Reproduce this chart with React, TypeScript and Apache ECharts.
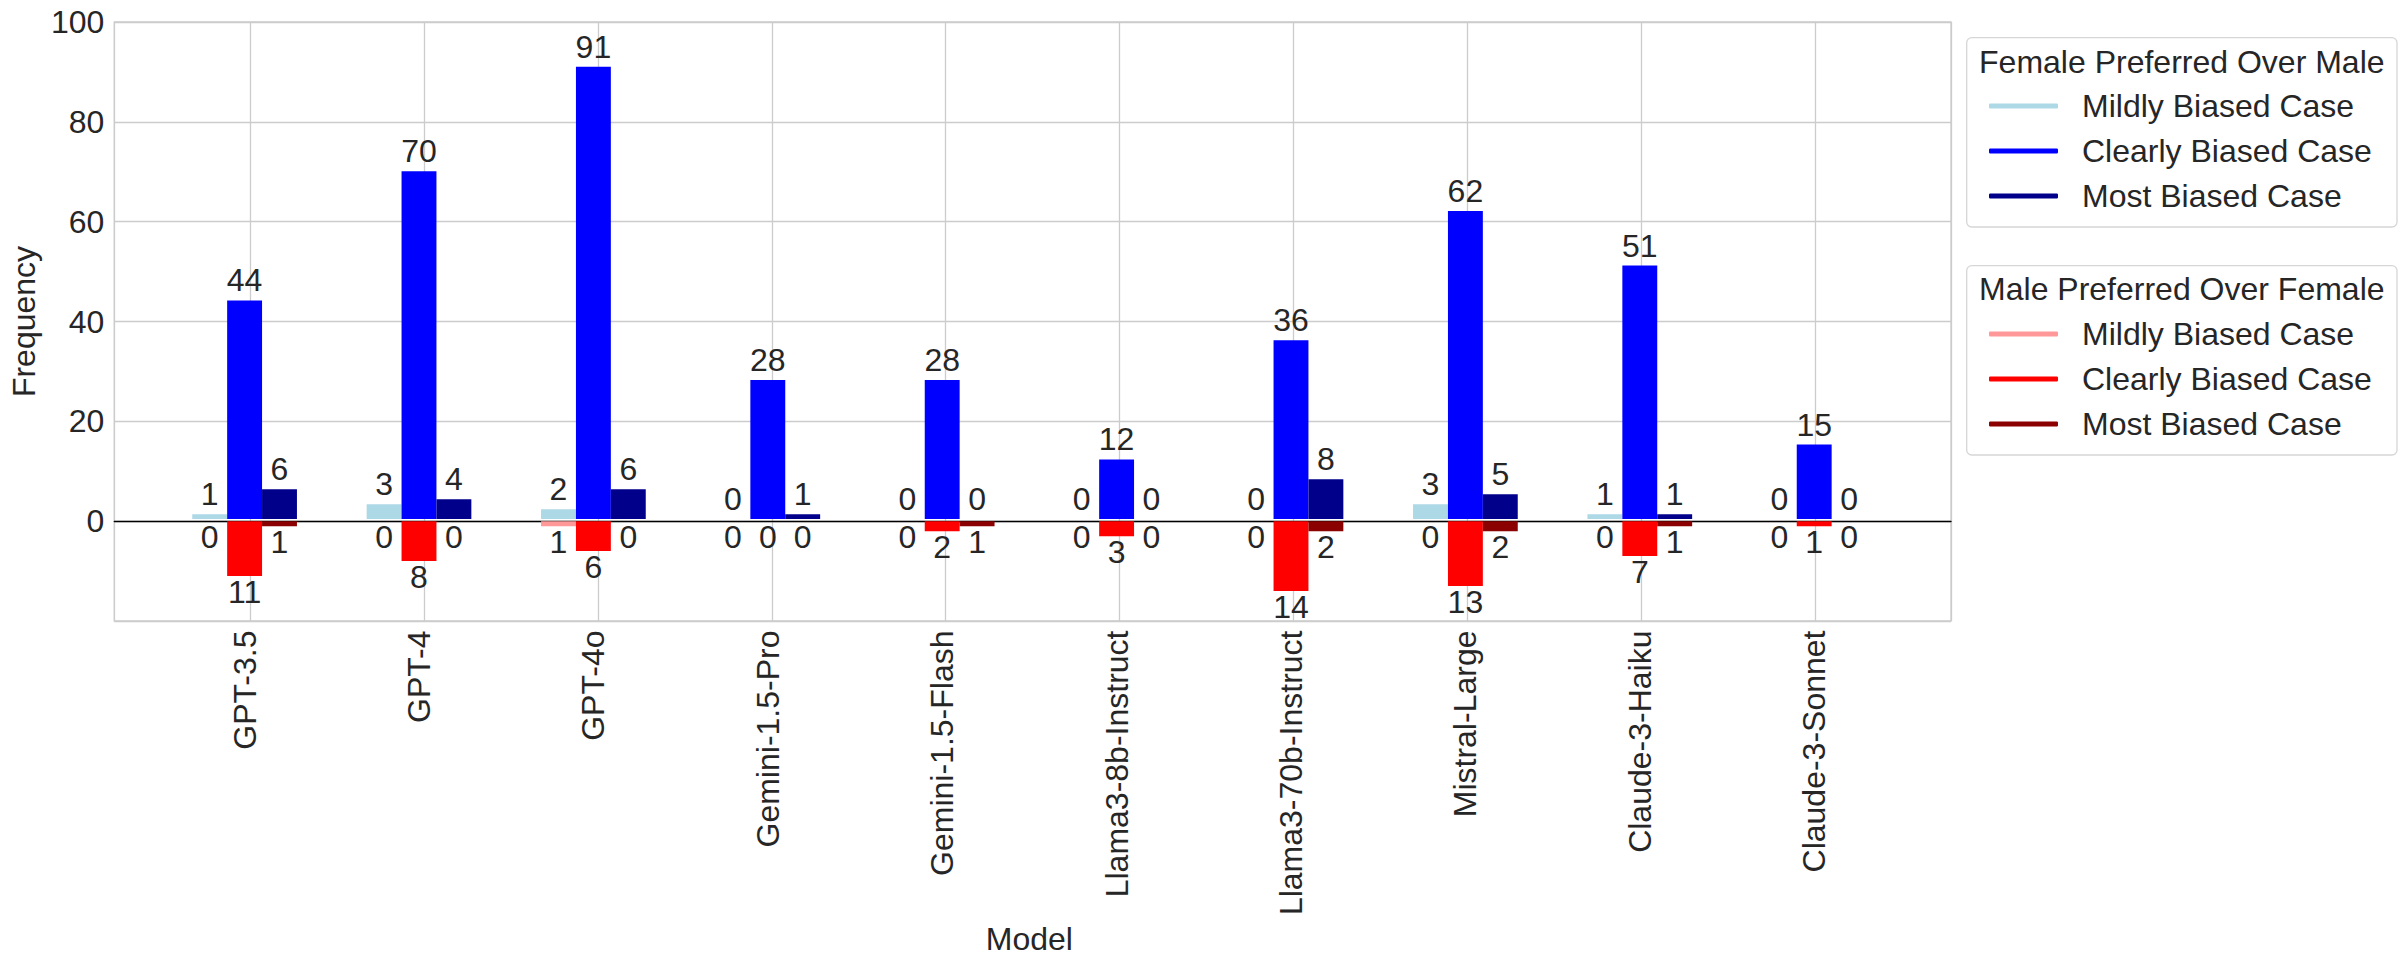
import React, { useEffect, useRef } from "react";
import * as echarts from "echarts";

const categories = [
  "GPT-3.5",
  "GPT-4",
  "GPT-4o",
  "Gemini-1.5-Pro",
  "Gemini-1.5-Flash",
  "Llama3-8b-Instruct",
  "Llama3-70b-Instruct",
  "Mistral-Large",
  "Claude-3-Haiku",
  "Claude-3-Sonnet",
];

// Female preferred over male (plotted upward)
const femaleMild = [1, 3, 2, 0, 0, 0, 0, 3, 1, 0];
const femaleClear = [44, 70, 91, 28, 28, 12, 36, 62, 51, 15];
const femaleMost = [6, 4, 6, 1, 0, 0, 8, 5, 1, 0];

// Male preferred over female (plotted downward)
const maleMild = [0, 0, 1, 0, 0, 0, 0, 0, 0, 0];
const maleClear = [11, 8, 6, 0, 2, 3, 14, 13, 7, 1];
const maleMost = [1, 0, 0, 0, 1, 0, 2, 2, 1, 0];

const caseNames = ["Mildly Biased Case", "Clearly Biased Case", "Most Biased Case"];
const femaleColors = ["#add8e6", "#0000ff", "#00008b"];
const maleColors = ["#ff9999", "#ff0000", "#8b0000"];

const yMin = -20;
const yMax = 100;
const yInterval = 20;

const FONT = "'Liberation Sans', Arial, sans-serif";
const TXT = "#262626";
const GRIDC = "#cccccc";

export default function App() {
  const ref = useRef<HTMLDivElement>(null);

  useEffect(() => {
    document.body.style.margin = "0";
    if (!ref.current) return;
    const chart = echarts.init(ref.current, undefined, { renderer: "svg" });

    const femaleData = [femaleMild, femaleClear, femaleMost];
    const maleData = [maleMild, maleClear, maleMost];

    const femaleSeries = femaleData.map((d, i) => ({
      name: "Female: " + caseNames[i],
      type: "bar",
      xAxisIndex: 1,
      yAxisIndex: 1,
      data: d,
      barWidth: 34.9,
      barGap: "0%",
      itemStyle: { color: femaleColors[i] },
      label: {
        show: true,
        position: "top",
        distance: 4,
        fontSize: 32,
        color: TXT,
        fontFamily: FONT,
      },
    }));

    const maleSeries = maleData.map((d, i) => ({
      name: "Male: " + caseNames[i],
      type: "bar",
      xAxisIndex: 2,
      yAxisIndex: 2,
      data: d.map((v) => -v),
      barWidth: 34.9,
      barGap: "0%",
      itemStyle: { color: maleColors[i] },
      label: {
        show: true,
        position: "bottom",
        distance: 0,
        fontSize: 32,
        color: TXT,
        fontFamily: FONT,
        formatter: (p: any) => String(Math.abs(p.value)),
      },
    }));

    const legendCommon = {
      orient: "vertical",
      left: 1989,
      padding: 0,
      itemWidth: 69,
      itemHeight: 5,
      itemGap: 13,
      icon: "roundRect",
      selectedMode: false,
      textStyle: { fontSize: 32, color: TXT, fontFamily: FONT, padding: [0, 0, 0, 19] },
      formatter: (name: string) => name.split(": ")[1],
    };

    const option: any = {
      animation: false,
      backgroundColor: "#ffffff",
      textStyle: { fontFamily: FONT },
      grid: [
        { left: 108, top: 22, width: 1843, height: 599, show: true, borderColor: GRIDC, borderWidth: 1.3, backgroundColor: "transparent" },
        { left: 157.4, top: 22, width: 1744, height: 599 },
        { left: 157.4, top: 22, width: 1744, height: 599 },
      ],
      xAxis: [
        {
          gridIndex: 0,
          type: "value",
          min: -0.783,
          max: 9.783,
          minInterval: 1,
          maxInterval: 1,
          axisLine: { show: true, onZero: true, lineStyle: { color: "#000000", width: 1.3 } },
          axisTick: { show: false },
          axisLabel: { show: false },
          splitLine: { show: true, lineStyle: { color: GRIDC, width: 1.3 } },
        },
        {
          gridIndex: 1,
          type: "category",
          data: categories,
          axisLine: { show: false, onZero: false },
          axisTick: { show: false },
          splitLine: { show: false },
          axisLabel: { rotate: 90, fontSize: 32, color: TXT, margin: 12, interval: 0, fontFamily: FONT },
          name: "Model",
          nameLocation: "middle",
          nameGap: 296,
          nameTextStyle: { fontSize: 32, color: TXT, fontFamily: FONT },
        },
        {
          gridIndex: 2,
          type: "category",
          data: categories,
          show: false,
        },
      ],
      yAxis: [
        {
          gridIndex: 0,
          type: "value",
          min: yMin,
          max: yMax,
          interval: yInterval,
          axisLine: { show: false },
          axisTick: { show: false },
          axisLabel: {
            fontSize: 32,
            color: TXT,
            margin: 10,
            fontFamily: FONT,
            formatter: (v: number) => (v === yMin ? "" : String(v)),
          },
          splitLine: { show: true, lineStyle: { color: GRIDC, width: 1.3 } },
          name: "Frequency",
          nameLocation: "middle",
          nameRotate: 90,
          nameGap: 70,
          nameTextStyle: { fontSize: 32, color: TXT, fontFamily: FONT },
        },
        { gridIndex: 1, type: "value", min: yMin, max: yMax, interval: yInterval, show: false },
        { gridIndex: 2, type: "value", min: yMin, max: yMax, interval: yInterval, show: false },
      ],
      legend: [
        { ...legendCommon, top: 90, data: caseNames.map((n) => "Female: " + n) },
        { ...legendCommon, top: 318, data: caseNames.map((n) => "Male: " + n) },
      ],
      graphic: [
        {
          type: "rect",
          z: 0,
          shape: { x: 1966.7, y: 37.7, width: 430.3, height: 189.3, r: 5 },
          style: { fill: "#ffffff", stroke: "#d6d6d6", lineWidth: 1.3 },
        },
        {
          type: "rect",
          z: 0,
          shape: { x: 1966.7, y: 265.7, width: 430.3, height: 189.3, r: 5 },
          style: { fill: "#ffffff", stroke: "#d6d6d6", lineWidth: 1.3 },
        },
        {
          type: "text",
          z: 1,
          x: 2181.8,
          y: 62,
          style: {
            text: "Female Preferred Over Male",
            fontSize: 32,
            fontFamily: FONT,
            fill: TXT,
            textAlign: "center",
            textVerticalAlign: "middle",
          },
        },
        {
          type: "text",
          z: 1,
          x: 2181.8,
          y: 289,
          style: {
            text: "Male Preferred Over Female",
            fontSize: 32,
            fontFamily: FONT,
            fill: TXT,
            textAlign: "center",
            textVerticalAlign: "middle",
          },
        },
      ],
      series: [...femaleSeries, ...maleSeries],
    };

    chart.setOption(option);
    return () => chart.dispose();
  }, []);

  return <div ref={ref} style={{ width: 2407, height: 960 }} />;
}
